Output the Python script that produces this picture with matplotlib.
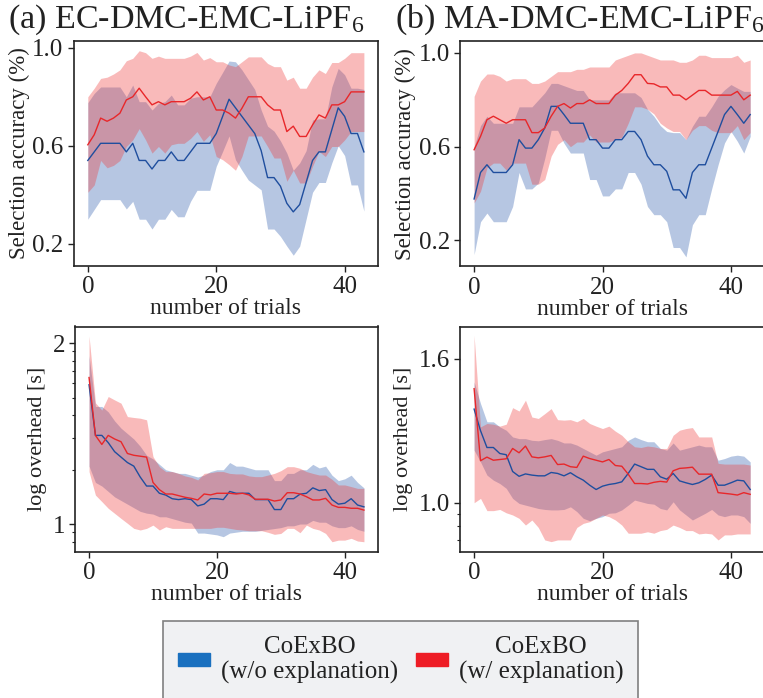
import numpy as np
import matplotlib.pyplot as plt
from matplotlib.patches import Patch
from matplotlib.ticker import NullFormatter

plt.rcParams['font.family'] = ['Liberation Serif', 'DejaVu Serif']
plt.rcParams['mathtext.fontset'] = 'custom'
plt.rcParams['mathtext.rm'] = 'Liberation Serif'
plt.rcParams['mathtext.it'] = 'Liberation Serif:italic'

trials = np.arange(44)

# (a) EC-DMC-EMC-LiPF6 : selection accuracy, mean and band
a_blue_mean = [0.54, 0.575, 0.61, 0.61, 0.61, 0.61, 0.575, 0.61, 0.54, 0.54, 0.505, 0.54, 0.54, 0.575, 0.54, 0.54, 0.575, 0.61, 0.61, 0.61, 0.65, 0.72, 0.79, 0.755, 0.72, 0.685, 0.65, 0.58, 0.47, 0.47, 0.435, 0.365, 0.33, 0.36, 0.45, 0.54, 0.575, 0.575, 0.665, 0.755, 0.72, 0.65, 0.65, 0.575]
a_blue_hi = [0.776, 0.814, 0.84, 0.84, 0.84, 0.84, 0.80, 0.848, 0.78, 0.78, 0.746, 0.773, 0.78, 0.807, 0.767, 0.767, 0.794, 0.80, 0.80, 0.80, 0.855, 0.90, 0.946, 0.943, 0.91, 0.87, 0.83, 0.746, 0.68, 0.66, 0.62, 0.57, 0.50, 0.53, 0.58, 0.705, 0.71, 0.71, 0.84, 0.916, 0.89, 0.835, 0.835, 0.83]
a_blue_lo = [0.30, 0.34, 0.38, 0.38, 0.38, 0.38, 0.342, 0.373, 0.30, 0.30, 0.26, 0.30, 0.30, 0.34, 0.31, 0.31, 0.373, 0.418, 0.418, 0.418, 0.516, 0.577, 0.64, 0.543, 0.50, 0.46, 0.44, 0.42, 0.26, 0.26, 0.23, 0.19, 0.153, 0.19, 0.30, 0.41, 0.45, 0.45, 0.53, 0.60, 0.56, 0.44, 0.44, 0.333]
a_red_mean = [0.604, 0.645, 0.713, 0.70, 0.713, 0.733, 0.787, 0.80, 0.835, 0.80, 0.767, 0.78, 0.767, 0.78, 0.78, 0.78, 0.794, 0.82, 0.787, 0.80, 0.746, 0.746, 0.733, 0.713, 0.753, 0.80, 0.80, 0.80, 0.767, 0.746, 0.746, 0.658, 0.68, 0.638, 0.638, 0.685, 0.726, 0.713, 0.767, 0.767, 0.78, 0.82, 0.82, 0.82]
a_red_hi = [0.80, 0.835, 0.875, 0.88, 0.893, 0.91, 0.947, 0.957, 0.988, 0.98, 0.957, 0.966, 0.957, 0.957, 0.957, 0.957, 0.966, 0.981, 0.95, 0.96, 0.943, 0.943, 0.93, 0.923, 0.943, 0.963, 0.963, 0.963, 0.936, 0.923, 0.923, 0.868, 0.88, 0.835, 0.835, 0.88, 0.91, 0.895, 0.94, 0.94, 0.957, 0.98, 0.98, 0.98]
a_red_lo = [0.41, 0.44, 0.54, 0.51, 0.52, 0.54, 0.597, 0.624, 0.67, 0.624, 0.57, 0.597, 0.57, 0.604, 0.61, 0.61, 0.63, 0.658, 0.618, 0.645, 0.556, 0.543, 0.523, 0.50, 0.556, 0.64, 0.64, 0.64, 0.597, 0.55, 0.55, 0.455, 0.50, 0.448, 0.448, 0.516, 0.577, 0.556, 0.597, 0.597, 0.624, 0.658, 0.658, 0.658]

# (b) MA-DMC-EMC-LiPF6 : selection accuracy
b_blue_mean = [0.377, 0.49, 0.523, 0.49, 0.49, 0.49, 0.523, 0.63, 0.594, 0.594, 0.63, 0.68, 0.772, 0.772, 0.737, 0.70, 0.70, 0.70, 0.63, 0.63, 0.594, 0.594, 0.63, 0.63, 0.665, 0.665, 0.63, 0.56, 0.523, 0.523, 0.495, 0.416, 0.416, 0.38, 0.49, 0.523, 0.523, 0.594, 0.665, 0.737, 0.772, 0.737, 0.70, 0.737]
b_blue_hi = [0.60, 0.69, 0.73, 0.70, 0.70, 0.70, 0.70, 0.77, 0.77, 0.77, 0.80, 0.83, 0.87, 0.87, 0.86, 0.85, 0.84, 0.84, 0.80, 0.80, 0.80, 0.80, 0.83, 0.83, 0.83, 0.83, 0.81, 0.76, 0.73, 0.69, 0.665, 0.66, 0.66, 0.63, 0.687, 0.73, 0.73, 0.77, 0.815, 0.843, 0.865, 0.85, 0.836, 0.836]
b_blue_lo = [0.14, 0.28, 0.317, 0.28, 0.28, 0.28, 0.345, 0.49, 0.42, 0.42, 0.445, 0.55, 0.67, 0.67, 0.615, 0.573, 0.573, 0.573, 0.46, 0.46, 0.39, 0.39, 0.42, 0.42, 0.49, 0.49, 0.44, 0.345, 0.31, 0.31, 0.28, 0.17, 0.17, 0.13, 0.267, 0.31, 0.31, 0.42, 0.523, 0.616, 0.665, 0.623, 0.573, 0.644]
b_red_mean = [0.587, 0.644, 0.715, 0.73, 0.715, 0.70, 0.715, 0.715, 0.715, 0.66, 0.66, 0.68, 0.73, 0.772, 0.784, 0.765, 0.784, 0.784, 0.80, 0.784, 0.784, 0.784, 0.82, 0.84, 0.87, 0.907, 0.907, 0.87, 0.868, 0.855, 0.855, 0.82, 0.82, 0.80, 0.82, 0.84, 0.84, 0.82, 0.82, 0.82, 0.82, 0.836, 0.80, 0.82]
b_red_hi = [0.815, 0.88, 0.91, 0.91, 0.90, 0.88, 0.89, 0.89, 0.89, 0.87, 0.87, 0.88, 0.90, 0.92, 0.92, 0.92, 0.93, 0.93, 0.94, 0.94, 0.94, 0.94, 0.97, 0.98, 0.99, 1.0, 1.0, 0.99, 0.98, 0.97, 0.97, 0.97, 0.96, 0.96, 0.97, 0.99, 0.99, 0.98, 0.98, 0.98, 0.98, 0.99, 0.96, 0.97]
b_red_lo = [0.36, 0.41, 0.51, 0.53, 0.53, 0.50, 0.53, 0.53, 0.53, 0.44, 0.44, 0.46, 0.56, 0.61, 0.63, 0.60, 0.62, 0.62, 0.65, 0.62, 0.62, 0.62, 0.63, 0.64, 0.70, 0.77, 0.77, 0.76, 0.74, 0.70, 0.68, 0.665, 0.665, 0.63, 0.67, 0.69, 0.69, 0.67, 0.66, 0.66, 0.66, 0.69, 0.63, 0.66]

# (a) overhead, log10 seconds
c_blue_mean = [1.77, 1.49, 1.49, 1.45, 1.40, 1.37, 1.34, 1.32, 1.26, 1.21, 1.21, 1.17, 1.16, 1.14, 1.135, 1.14, 1.135, 1.10, 1.11, 1.14, 1.14, 1.135, 1.18, 1.17, 1.17, 1.17, 1.135, 1.135, 1.135, 1.08, 1.08, 1.14, 1.14, 1.165, 1.17, 1.20, 1.185, 1.19, 1.135, 1.11, 1.115, 1.14, 1.105, 1.095]
c_blue_hi = [1.93, 1.65, 1.65, 1.62, 1.57, 1.53, 1.50, 1.47, 1.43, 1.38, 1.36, 1.33, 1.30, 1.29, 1.28, 1.28, 1.27, 1.26, 1.27, 1.29, 1.30, 1.30, 1.34, 1.32, 1.32, 1.31, 1.30, 1.30, 1.30, 1.24, 1.24, 1.28, 1.28, 1.30, 1.30, 1.33, 1.31, 1.32, 1.27, 1.24, 1.25, 1.27, 1.23, 1.20]
c_blue_lo = [1.32, 1.23, 1.21, 1.18, 1.15, 1.13, 1.11, 1.09, 1.07, 1.06, 1.055, 1.04, 1.04, 1.03, 1.02, 1.01, 1.005, 0.95, 0.95, 0.945, 0.94, 0.93, 0.95, 0.955, 0.96, 0.96, 0.96, 0.965, 0.97, 0.975, 0.98, 0.99, 0.99, 1.00, 1.00, 1.02, 1.01, 1.01, 0.99, 0.98, 0.98, 0.99, 0.97, 0.96]
c_red_mean = [1.81, 1.49, 1.44, 1.49, 1.47, 1.455, 1.39, 1.38, 1.375, 1.37, 1.23, 1.19, 1.166, 1.166, 1.157, 1.148, 1.142, 1.133, 1.166, 1.161, 1.17, 1.17, 1.17, 1.166, 1.17, 1.161, 1.137, 1.137, 1.137, 1.127, 1.133, 1.173, 1.173, 1.166, 1.151, 1.133, 1.133, 1.142, 1.105, 1.092, 1.092, 1.087, 1.087, 1.077]
c_red_hi = [2.04, 1.67, 1.63, 1.705, 1.686, 1.668, 1.594, 1.589, 1.585, 1.576, 1.373, 1.317, 1.29, 1.29, 1.28, 1.266, 1.258, 1.244, 1.28, 1.284, 1.29, 1.29, 1.28, 1.277, 1.277, 1.266, 1.262, 1.262, 1.271, 1.28, 1.295, 1.317, 1.317, 1.308, 1.29, 1.28, 1.271, 1.271, 1.247, 1.216, 1.216, 1.207, 1.197, 1.197]
c_red_lo = [1.29, 1.16, 1.124, 1.087, 1.059, 1.031, 1.004, 0.976, 0.967, 0.976, 0.994, 0.967, 0.985, 0.976, 0.976, 0.976, 0.976, 0.976, 0.976, 0.976, 0.982, 0.982, 0.976, 0.97, 0.967, 0.963, 0.963, 0.963, 0.954, 0.943, 0.948, 0.976, 0.976, 0.952, 0.994, 0.976, 0.967, 0.948, 0.902, 0.911, 0.911, 0.921, 0.906, 0.902]

# (b) overhead, log10 seconds
d_blue_mean = [1.39, 1.30, 1.23, 1.23, 1.205, 1.20, 1.13, 1.11, 1.12, 1.115, 1.112, 1.112, 1.126, 1.122, 1.112, 1.125, 1.108, 1.094, 1.073, 1.055, 1.069, 1.076, 1.080, 1.087, 1.122, 1.161, 1.150, 1.139, 1.139, 1.108, 1.098, 1.122, 1.091, 1.083, 1.076, 1.083, 1.097, 1.115, 1.073, 1.073, 1.083, 1.094, 1.091, 1.055]
d_blue_hi = [1.503, 1.413, 1.337, 1.337, 1.316, 1.302, 1.274, 1.267, 1.267, 1.260, 1.258, 1.263, 1.267, 1.260, 1.249, 1.249, 1.240, 1.226, 1.212, 1.198, 1.212, 1.219, 1.226, 1.233, 1.260, 1.274, 1.263, 1.254, 1.254, 1.226, 1.219, 1.249, 1.219, 1.226, 1.233, 1.240, 1.233, 1.233, 1.177, 1.184, 1.194, 1.198, 1.194, 1.170]
d_blue_lo = [1.219, 1.170, 1.115, 1.094, 1.080, 1.060, 1.018, 0.997, 0.990, 0.983, 0.976, 0.972, 0.970, 0.970, 0.972, 0.983, 0.963, 0.935, 0.925, 0.935, 0.942, 0.956, 0.958, 0.970, 0.990, 1.011, 1.004, 0.997, 0.994, 0.976, 0.970, 1.004, 0.970, 0.949, 0.928, 0.942, 0.956, 0.972, 0.949, 0.942, 0.949, 0.949, 0.942, 0.914]
d_red_mean = [1.475, 1.175, 1.19, 1.177, 1.18, 1.183, 1.226, 1.208, 1.236, 1.191, 1.187, 1.191, 1.197, 1.159, 1.161, 1.150, 1.147, 1.194, 1.184, 1.177, 1.170, 1.180, 1.155, 1.152, 1.119, 1.080, 1.080, 1.078, 1.085, 1.089, 1.086, 1.133, 1.143, 1.145, 1.148, 1.119, 1.119, 1.119, 1.042, 1.039, 1.036, 1.032, 1.042, 1.035]
d_red_hi = [1.697, 1.316, 1.330, 1.327, 1.319, 1.327, 1.396, 1.382, 1.427, 1.357, 1.351, 1.371, 1.392, 1.346, 1.344, 1.346, 1.337, 1.351, 1.330, 1.319, 1.309, 1.319, 1.298, 1.281, 1.254, 1.233, 1.230, 1.236, 1.233, 1.226, 1.226, 1.281, 1.302, 1.309, 1.313, 1.274, 1.274, 1.274, 1.164, 1.161, 1.161, 1.161, 1.161, 1.157]
d_red_lo = [1.000, 1.018, 0.967, 0.967, 0.972, 0.958, 0.949, 0.935, 0.907, 0.928, 0.897, 0.845, 0.838, 0.845, 0.845, 0.845, 0.897, 0.914, 0.921, 0.935, 0.949, 0.942, 0.928, 0.907, 0.873, 0.873, 0.873, 0.879, 0.873, 0.884, 0.889, 0.907, 0.897, 0.884, 0.884, 0.870, 0.873, 0.870, 0.845, 0.866, 0.866, 0.870, 0.870, 0.870]

titles = ['(a) EC-DMC-EMC-LiPF$_6$', '(b) MA-DMC-EMC-LiPF$_6$']
labels = ['CoExBO\n(w/o explanation)', 'CoExBO\n(w/ explanation)']

BLUE_FILL, RED_FILL = '#4a72b8', '#ee3b3b'
BLUE_LINE, RED_LINE = '#1f4e9e', '#e8272a'
INK = '#222222'

W, H = 763, 698
fig = plt.figure(figsize=(W / 100, H / 100), dpi=100)


def box(x0, y0, x1, y1):
    return [x0 / W, 1 - y1 / H, (x1 - x0) / W, (y1 - y0) / H]


ax_a = fig.add_axes(box(74, 40.7, 377.7, 266))
ax_b = fig.add_axes(box(460.3, 41.2, 764, 266.5))
ax_c = fig.add_axes(box(75.3, 326.5, 377.7, 551.7))
ax_d = fig.add_axes(box(460.3, 326.5, 764, 551.7))


def draw(ax, bm, bl, bh, rm, rl, rh, log=False):
    f = (lambda v: 10 ** np.asarray(v)) if log else np.asarray
    ax.fill_between(trials, f(bl), f(bh), color=BLUE_FILL, alpha=0.4, lw=0)
    ax.fill_between(trials, f(rl), f(rh), color=RED_FILL, alpha=0.35, lw=0)
    ax.plot(trials, f(bm), color=BLUE_LINE, lw=1.0)
    ax.plot(trials, f(rm), color=RED_LINE, lw=1.0)
    ax.set_xlim(-2.15, 45.15)
    ax.set_xticks([0, 20, 40])
    ax.set_xlabel('number of trials', fontsize=17, color=INK, labelpad=0)
    ax.tick_params(labelsize=18, colors=INK, length=4, width=1)
    ax.tick_params(which='minor', length=2.5, width=0.8, colors=INK)
    for s in ax.spines.values():
        s.set_linewidth(1.2)
        s.set_color(INK)


draw(ax_a, a_blue_mean, a_blue_lo, a_blue_hi, a_red_mean, a_red_lo, a_red_hi)
draw(ax_b, b_blue_mean, b_blue_lo, b_blue_hi, b_red_mean, b_red_lo, b_red_hi)
draw(ax_c, c_blue_mean, c_blue_lo, c_blue_hi, c_red_mean, c_red_lo, c_red_hi, log=True)
draw(ax_d, d_blue_mean, d_blue_lo, d_blue_hi, d_red_mean, d_red_lo, d_red_hi, log=True)

ax_a.set_ylim(0.109, 1.029)
ax_b.set_ylim(0.089, 1.05)
for ax in (ax_a, ax_b):
    ax.set_yticks([0.2, 0.6, 1.0])
    ax.set_yticklabels(['0.2', '0.6', '1.0'])
    ax.set_ylabel('Selection accuracy (%)', fontsize=16.5, color=INK, labelpad=2)

for ax in (ax_c, ax_d):
    ax.set_yscale('log')
    ax.set_ylabel('log overhead [s]', fontsize=16, color=INK, labelpad=4)
    ax.yaxis.set_minor_formatter(NullFormatter())

ax_c.set_ylim(10 ** 0.847, 10 ** 2.092)
ax_c.set_yticks([10, 100])
ax_c.set_yticklabels(['1', '2'])
ax_c.set_yticks([8, 9, 20, 30, 40, 50, 60, 70, 80, 90], minor=True)

ax_d.set_ylim(10 ** 0.796, 10 ** 1.734)
ax_d.set_yticks([10, 10 ** 1.6])
ax_d.set_yticklabels(['1.0', '1.6'])
ax_d.set_yticks([7, 8, 9], minor=True)

fig.text(8 / W, 1 - 28 / H, titles[0], fontsize=24.5, color=INK, ha='left', va='baseline')
fig.text(395 / W, 1 - 28 / H, titles[1], fontsize=24.5, color=INK, ha='left', va='baseline')

handles = [Patch(color='#1a70bf'), Patch(color='#ee1c25')]
leg = fig.legend(handles, labels, loc='upper center', bbox_to_anchor=(400.5 / W, 1 - 621 / H),
                 ncol=2, fontsize=18, frameon=True, fancybox=False, framealpha=1,
                 facecolor='#f0f1f3', edgecolor='#808080', handlelength=1.28,
                 handleheight=0.4, handletextpad=0.45, columnspacing=0.7, borderpad=0.6,
                 borderaxespad=0)
leg.get_frame().set_linewidth(1.2)
for t in leg.get_texts():
    t.set_multialignment('center')
    t.set_linespacing(1.15)
    t.set_color(INK)

fig.savefig('out.png', dpi=100)
